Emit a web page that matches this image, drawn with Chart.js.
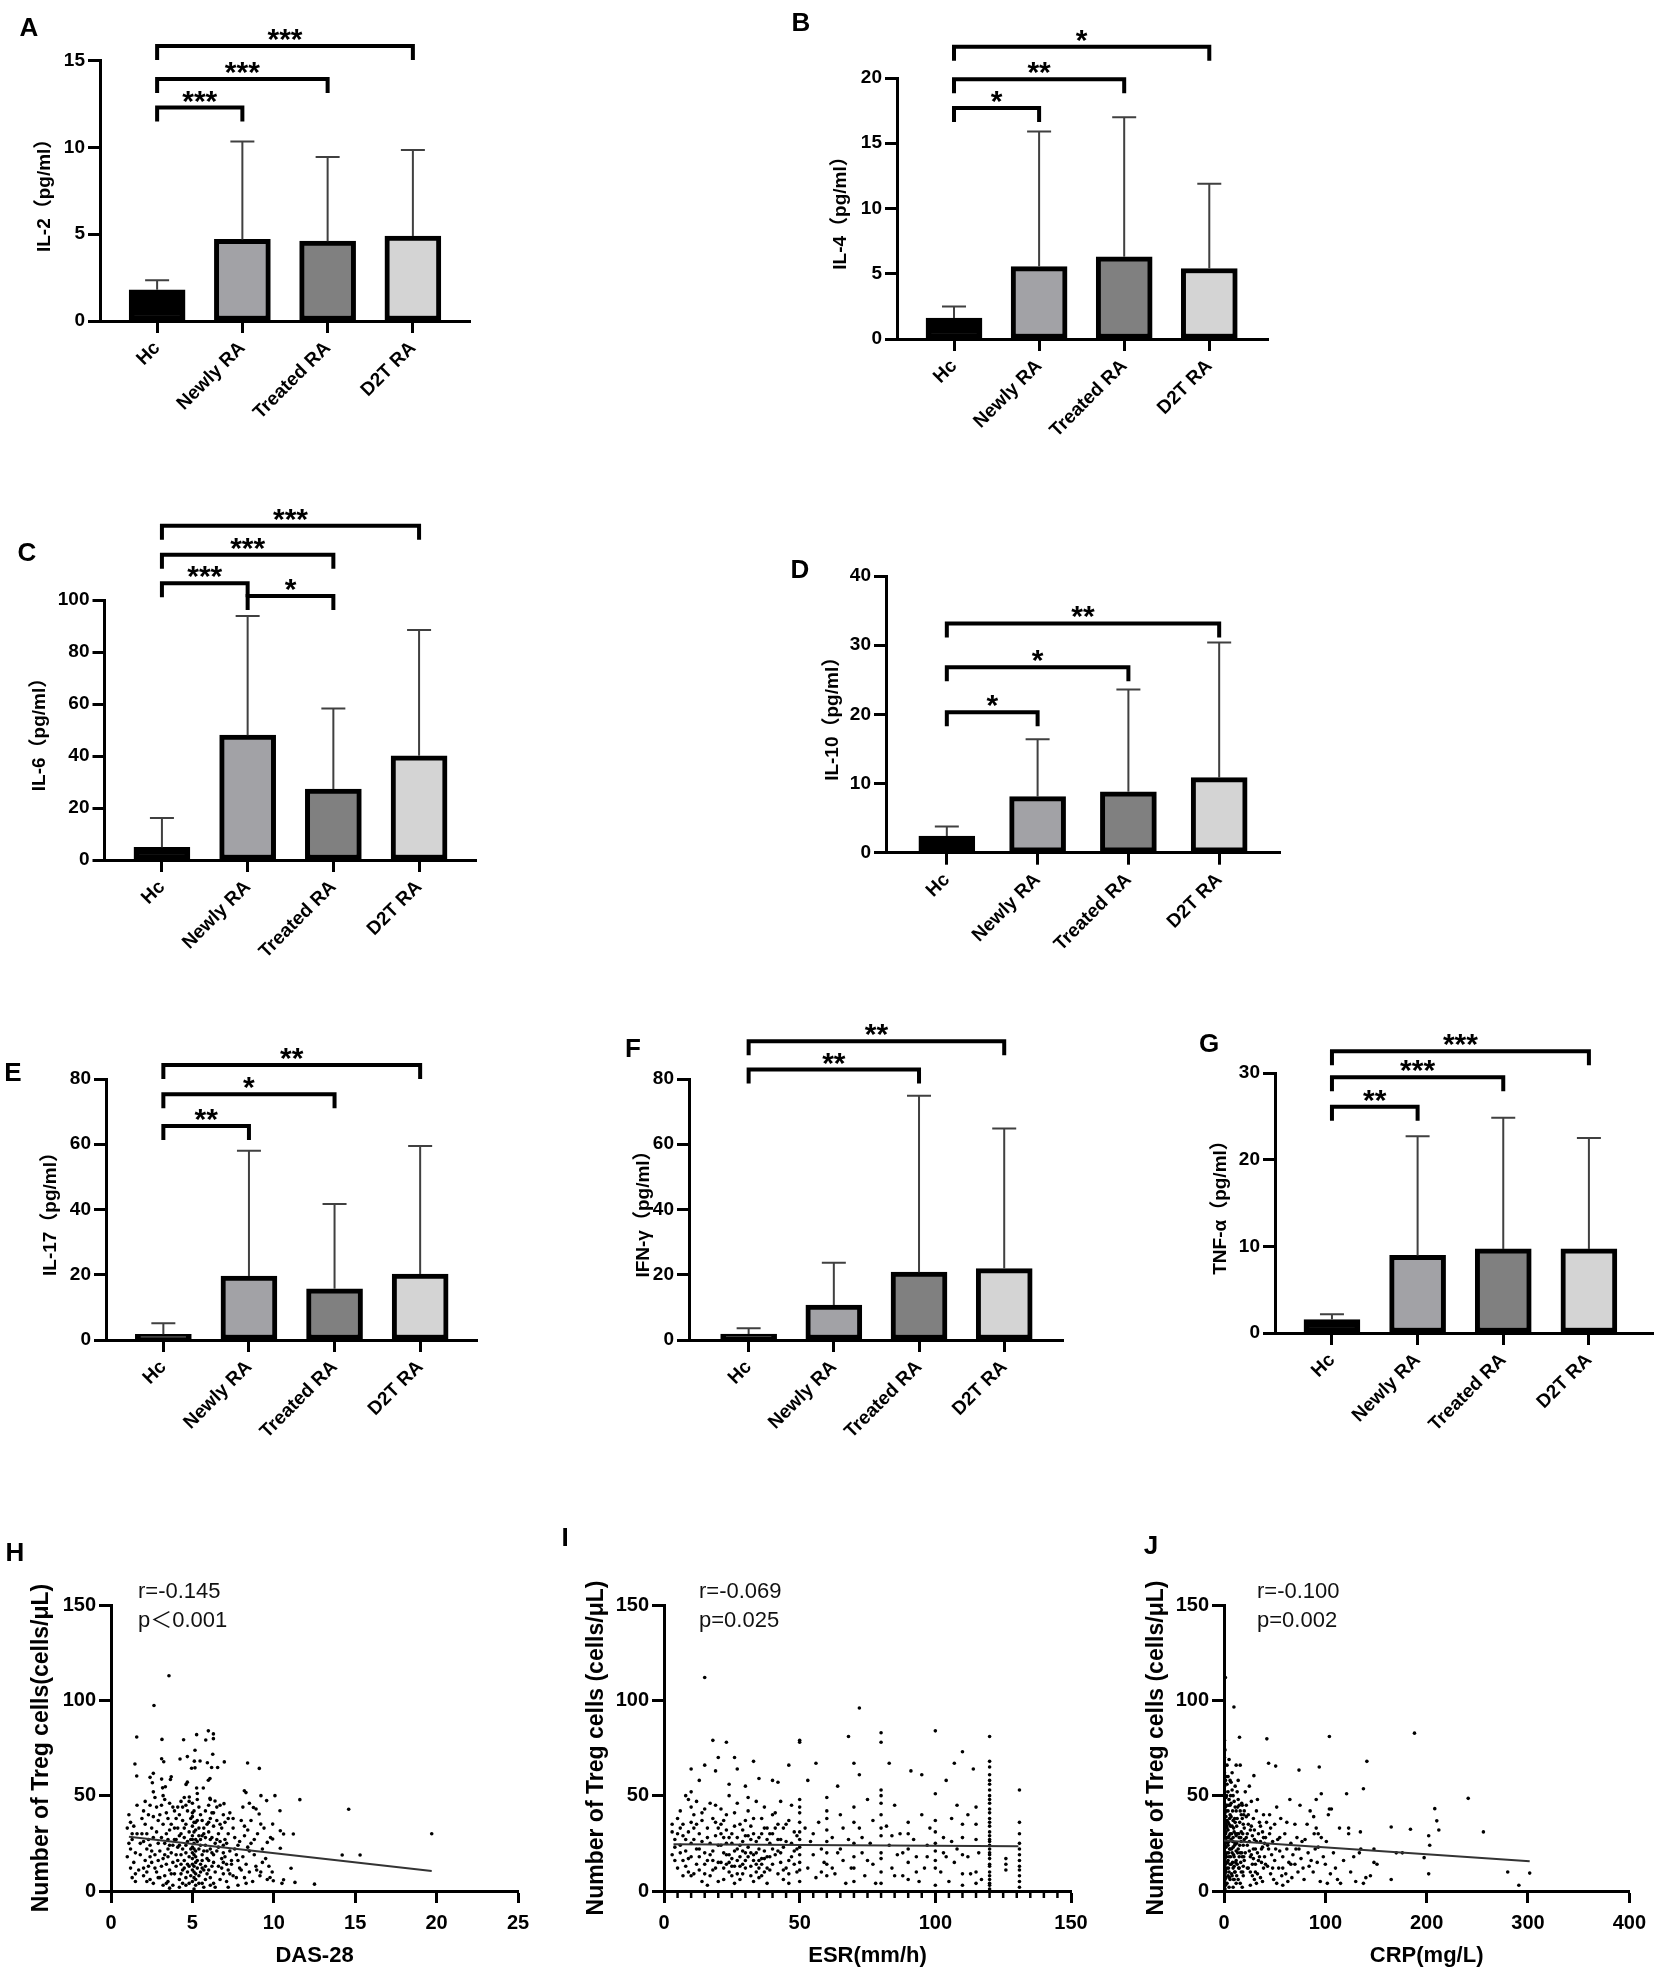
<!DOCTYPE html>
<html>
<head>
<meta charset="utf-8">
<title>Cytokines and Treg cells in RA</title>
<script src="https://cdn.jsdelivr.net/npm/chart.js@4.4.1/dist/chart.umd.min.js"></script>
<style>
  html, body { margin: 0; background: #fff; overflow: hidden; }
  #fig { position: relative; width: 1654px; height: 1973px; }
  #fig canvas { position: absolute; }
  .tag {
    position: absolute;
    font: bold 26px "Liberation Sans", Arial, sans-serif;
    line-height: 1;
    transform: translate(-50%, -50%);
  }
</style>
</head>
<body>
<div id="fig"></div>
<script>
// Bar panels: mean and whisker top (mean + SD), significance brackets [from, to, level, mark]
const CATS = ["Hc", "Newly RA", "Treated RA", "D2T RA"];
const BAR_FILLS = ["#000000", "#a2a2a6", "#808080", "#d4d4d4"];

const IL2_MEAN = [1.8, 4.7, 4.6, 4.9];
const IL2_TOP = [2.35, 10.35, 9.45, 9.85];
const IL2_SIG = [[0, 1, 12.3, "***"], [0, 2, 13.95, "***"], [0, 3, 15.85, "***"]];

const IL4_MEAN = [1.6, 5.55, 6.3, 5.4];
const IL4_TOP = [2.5, 15.9, 17.0, 11.9];
const IL4_SIG = [[0, 1, 17.7, "*"], [0, 2, 19.9, "**"], [0, 3, 22.4, "*"]];

const IL6_MEAN = [4.9, 48, 27.3, 40.1];
const IL6_TOP = [16.2, 93.8, 58.3, 88.5];
const IL6_SIG = [[0, 1, 106.4, "***"], [1, 2, 101.5, "*"], [0, 2, 117.4, "***"], [0, 3, 128.6, "***"]];

const IL10_MEAN = [2.4, 8.1, 8.8, 10.85];
const IL10_TOP = [3.8, 16.4, 23.6, 30.4];
const IL10_SIG = [[0, 1, 20.3, "*"], [0, 2, 26.8, "*"], [0, 3, 33.15, "**"]];

const IL17_MEAN = [1.75, 19.6, 15.7, 20.2];
const IL17_TOP = [5.1, 58, 41.7, 59.5];
const IL17_SIG = [[0, 1, 65.6, "**"], [0, 2, 75.3, "*"], [0, 3, 84.3, "**"]];

const IFNG_MEAN = [1.85, 10.7, 20.8, 21.9];
const IFNG_TOP = [3.6, 23.7, 74.9, 64.8];
const IFNG_SIG = [[0, 2, 82.9, "**"], [0, 3, 91.6, "**"]];

const TNFA_MEAN = [1.55, 8.95, 9.7, 9.7];
const TNFA_TOP = [2.16, 22.7, 24.85, 22.5];
const TNFA_SIG = [[0, 1, 26.1, "**"], [0, 2, 29.5, "***"], [0, 3, 32.5, "***"]];

// Scatter panels: [x, Treg count], plus the drawn fit line ends
const DAS28_TREG = [
  [3.56,112.9],[2.64,97.3],[1.58,80.8],[3.13,79.5],[4.46,79.3],[5.26,82],[5.98,84],[6.29,82.4],[6.29,79.9],[5.82,79.2],
  [5.16,73.8],[6.25,71.7],[1.47,66.6],[3.24,67.8],[3.11,69.4],[4.24,69.2],[4.69,70.5],[5.12,68.1],[5.47,68.2],[5.92,67.3],
  [6.96,67.7],[6.55,64.8],[6.18,64.8],[5.16,64.6],[4.95,64.4],[8.39,67.1],[9.11,64.3],[1.58,60.3],[2.6,61.7],[2.4,59.6],
  [2.54,56.8],[3.7,59.9],[3.65,58.5],[3.34,54.7],[3.17,54.1],[3.11,58.7],[4.69,57.1],[4.61,55.9],[6.08,59],[5.98,58.1],
  [5.67,54],[5.26,54],[5.3,51.1],[4.81,49.3],[6.08,48.6],[6.39,47.2],[6.94,45.8],[8.19,52.6],[8.29,51.6],[9.21,50],
  [10.07,50],[11.6,47.9],[14.6,42.9],[9.56,47.4],[10.38,42.1],[8.75,43.8],[8.91,43],[9.1,40.4],[9.2,35.1],[9.93,35.1],
  [10.4,31.6],[10.6,29.9],[11.2,29.9],[9.93,27.3],[9.6,25.5],[10.4,22.4],[14.2,18.9],[15.3,18.9],[11.06,11.9],[12.5,3.6],
  [11.3,4.5],[10.6,5.9],[9.97,5.4],[9.77,7.1],[9.15,8],[8.95,11],[19.7,30],
  [1.1,40],[1.2,36],[1.0,33],[1.3,30],[1.1,25],[1.2,22],[1.0,18],[1.4,15],[1.2,12],[1.5,9],[1.3,27],[1.5,20],[1.4,34],
  [1.6,45],[1.5,5],[1.7,11],[1.9,38],[2.0,42],[2.1,47],[1.9,30],[2.0,26],[2.2,22],[1.8,19],[2.1,16],[2.3,13],[2.0,8],
  [2.2,5],[2.4,6],[2.5,33],[2.6,28],[2.4,24],[2.7,19],[2.5,15],[2.8,10],[2.6,4],[2.9,37],[2.8,44],[2.3,40],[2.7,49],
  [2.9,25],[2.9,16],[3.0,7],[2.6,52],[2.4,18],[2.2,30],[2.8,31],[3.1,45],[3.2,50],[3.3,48],[3.4,41],[3.5,38],[3.2,35],
  [3.6,32],[3.1,28],[3.3,25],[3.5,22],[3.7,20],[3.2,17],[3.4,14],[3.6,11],[3.3,8],[3.5,5],[3.8,3],[3.9,27],[3.7,35],
  [3.9,42],[3.6,46],[3.8,15],[3.4,30],[3.0,21],[3.8,24],[3.6,1.5],[3.9,9],[3.5,18],[4.1,44],[4.3,47],[4.5,49],[4.2,40],
  [4.4,37],[4.6,35],[4.1,33],[4.3,30],[4.5,28],[4.7,26],[4.2,24],[4.4,22],[4.6,20],[4.8,18],[4.1,16],[4.3,14],[4.5,12],
  [4.7,10],[4.9,8],[4.2,6],[4.4,4],[4.6,3],[4.8,31],[4.9,38],[4.0,19],[4.0,27],[4.7,42],[4.9,22],[4.5,16],[4.8,13],
  [4.3,9],[4.6,45],[5.0,46],[5.1,42],[5.0,39],[5.2,36],[5.0,34],[5.1,31],[5.0,29],[5.2,27],[5.1,25],[5.0,23],[5.2,21],
  [5.1,19],[5.0,17],[5.2,15],[5.1,13],[5.0,11],[5.2,9],[5.1,7],[5.0,5],[5.2,3],[5.1,1],[5.4,44],[5.5,40],[5.6,37],
  [5.4,33],[5.7,30],[5.5,27],[5.8,24],[5.4,22],[5.6,19],[5.9,17],[5.5,14],[5.7,11],[5.4,8],[5.8,6],[5.6,4],[5.3,48],
  [5.9,35],[5.8,42],[5.3,26],[5.7,21],[5.9,9],[5.3,16],[5.6,29],[6.0,45],[6.2,41],[6.1,38],[6.3,34],[6.0,31],[6.2,28],
  [6.4,25],[6.1,22],[6.3,19],[6.0,16],[6.2,13],[6.4,10],[6.1,7],[6.3,4],[6.5,37],[6.6,30],[6.7,26],[6.5,21],[6.8,17],
  [6.6,13],[6.9,9],[6.7,6],[6.4,2],[6.8,33],[6.9,24],[6.5,44],[6.9,40],[6.1,48],[7.0,36],[7.2,30],[7.1,25],[7.3,21],
  [7.0,18],[7.4,14],[7.2,11],[7.5,8],[7.1,5],[7.6,28],[7.7,19],[7.8,24],[7.5,33],[7.9,12],[7.7,7],[7.3,41],[7.8,3],
  [7.4,16],[7.9,26],[8.0,37],[8.2,29],[8.4,23],[8.1,18],[8.3,14],[8.5,10],[8.2,7],[8.7,5],[8.6,25],[8.8,19],[8.4,32],
  [8.9,13],[8.1,44],[8.6,37],[8.3,4],[9.0,30],[9.3,22],[9.5,17],[9.2,10],[9.6,6],[9.4,33],[9.8,28],[9.7,13],
  [2.1,35],[2.3,27],[2.5,21],[2.7,12],[2.9,7],[3.1,13],[3.3,19],[3.5,27],[3.7,9],[3.9,33],[4.1,23],[4.3,19],[4.5,33],
  [4.7,14],[4.9,27],[4.2,29],[4.4,11],[4.6,7],[4.8,4],[5.0,41],[5.1,36],[5.2,32],[5.0,27],[5.1,22],[5.0,20],[5.2,18],
  [5.1,10],[5.0,14],[5.2,6],[5.3,37],[5.4,29],[5.5,24],[5.6,16],[5.7,33],[5.8,28],[5.9,21],[5.5,10],[5.6,12],[5.4,4],
  [5.8,13],[6.0,36],[6.1,27],[6.2,20],[6.3,15],[6.0,11],[6.1,3],[6.5,27],[6.6,23],[6.7,35],[6.8,12],[6.9,20],[7.0,27],
  [7.1,14],[7.2,38],[7.3,9],[7.6,22],[7.8,16],[8.0,11],[8.2,34],[8.5,21],[3.0,40],[2.0,12],[1.8,25],[1.6,30],[1.3,7],
  [3.2,3],[4.0,13],[4.0,38],[3.8,44],[2.4,45],[4.4,44],[4.8,47],[6.3,41],[6.7,45],[7.5,38],[8.5,46],[3.4,4],[4.2,2],
  [5.7,2],[7.2,2],[6.9,15],[8.8,27],[9.3,15],[9.9,10],[10.5,4],[2.2,10],[2.6,39],[3.6,24],[4.6,24],[5.3,12]
];
const DAS28_FIT = [[1.1, 28.5], [19.7, 10.5]];

const ESR_TREG = [
  [15,112],[72,96],[100,84],[120,81],[68,81],[80,83],[80,78],[50,79],[50,78],[18,79],[23,78],[20,70],[26,70],[33,68],
  [15,66],[10,64],[19,63],[27,64],[46,66],[56,67],[70,67],[83,67],[107,67],[110,73],[114,64],[91,63],[95,61],[72,61],
  [120,68],[120,65],[120,61],[120,58],[35,59],[40,58],[42,57],[53,58],[13,58],[131,53],[104,58],[24,56],[30,55],[64,55],
  [120,1],[120,3],[120,4],[120,6],[120,8],[120,10],[120,13],[120,14],[120,17],[120,19],[120,20],[120,22],[120,24],
  [120,26],[120,27],[120,29],[120,31],[120,34],[120,36],[120,38],[120,41],[120,43],[120,46],[120,48],[120,50],[120,53],
  [120,56],[131,2],[131,5],[131,8],[131,11],[131,13],[131,16],[131,19],[131,22],[131,25],[131,30],[131,36],[126,11],
  [126,14],[126,17],[50,5],[50,11],[50,15],[50,19],[50,23],[50,27],[50,31],[50,36],[50,41],[50,44],[50,48],[60,8],
  [60,14],[60,20],[60,26],[60,32],[60,38],[60,42],[60,49],[70,5],[70,12],[70,18],[70,25],[70,36],[70,44],[80,4],
  [80,10],[80,17],[80,20],[80,29],[80,33],[80,40],[80,46],[80,50],[80,53],[90,6],[90,15],[90,22],[90,30],[90,36],
  [100,3],[100,12],[100,16],[100,21],[100,25],[100,31],[100,37],[100,51],[110,3],[110,9],[110,19],[110,28],[110,35],
  [115,4],[115,10],[115,27],[115,35],[115,44],
  [3,35],[3,31],[4,27],[4,16],[5,12],[3,19],[5,38],[6,33],[7,29],[6,24],[8,21],[7,16],[9,10],[8,50],[9,48],[10,44],
  [6,42],[10,36],[9,31],[10,25],[8,13],[4,23],[7,8],[10,18],[10,52],[11,40],[12,35],[13,30],[14,26],[12,22],[13,18],
  [15,14],[11,9],[14,5],[16,3],[17,46],[15,43],[18,38],[16,33],[19,29],[17,25],[18,21],[16,16],[19,12],[17,8],[20,5],
  [12,47],[14,37],[19,45],[20,33],[13,11],[15,20],[18,16],[11,27],[20,24],[21,43],[22,37],[23,32],[24,28],[21,24],
  [22,20],[25,17],[23,14],[24,10],[22,6],[26,4],[27,46],[26,41],[28,35],[25,30],[29,26],[27,22],[28,18],[26,13],[29,9],
  [28,6],[30,37],[30,29],[24,50],[21,15],[25,8],[27,16],[29,14],[23,25],[30,20],[31,42],[32,34],[33,30],[34,26],[31,23],
  [33,19],[35,16],[32,13],[34,10],[36,8],[33,5],[37,44],[36,38],[38,33],[35,28],[39,25],[37,21],[38,18],[36,14],[39,11],
  [38,4],[31,49],[34,47],[40,30],[40,22],[32,8],[35,12],[37,17],[41,41],[42,35],[43,27],[44,23],[41,19],[43,15],[45,12],
  [42,9],[44,6],[46,4],[47,45],[46,37],[48,31],[45,26],[49,22],[47,18],[48,14],[46,9],[49,29],[44,33],[42,21],[43,47],
  [52,33],[54,26],[55,19],[53,12],[56,7],[58,22],[57,36],[59,15],[62,28],[64,20],[63,9],[65,40],[66,16],[67,4],[68,27],
  [69,12],[72,33],[73,20],[74,8],[75,48],[76,25],[77,14],[78,4],[82,34],[83,24],[84,12],[85,45],[86,19],[87,30],[88,8],
  [92,27],[93,18],[94,5],[95,40],[96,12],[97,24],[98,33],[102,10],[103,28],[104,18],[105,5],[106,38],[107,15],[108,22],
  [112,18],[113,9],[116,20],[117,6],[112,40],[108,45],
  [5,30],[6,20],[7,35],[8,27],[9,17],[10,8],[11,33],[12,14],[13,22],[14,41],[15,9],[16,28],[17,19],[18,11],[19,36],
  [20,15],[21,30],[22,12],[23,40],[24,19],[25,25],[26,34],[27,9],[28,24],[29,32],[30,12],[31,18],[32,27],[33,38],[34,14],
  [35,22],[36,30],[37,10],[38,27],[39,18],[40,14],[41,33],[42,27],[43,20],[44,11],[45,35],[46,16],[47,25],[48,21],[49,10],
  [21,35],[23,19],[25,13],[27,28],[29,21],[31,29],[33,16],[35,7],[37,33],[39,30],[26,21],[32,20],[34,20],[36,17],[38,12],
  [24,15],[22,28],[28,13],[30,16],[40,40],[55,30],[62,12],[66,33],[73,28],[77,37],[84,29],[88,20],[93,10],[97,18],
  [103,20],[106,26],[58,10],[65,22],[75,16],[85,8]
];
const ESR_FIT = [[3.5, 24.5], [130.6, 23.5]];

const CRP_TREG = [
  [1.4,112],[9.8,96.5],[15.3,80.6],[42.3,79.8],[104,81],[188,82.8],[141,68],[44,67],[51,65.5],[74,63.4],[94,65],
  [29.5,60.5],[121,51],[137.6,53.6],[241,48.6],[208,43.2],[210,36.8],[212,32],[202,29],[203,24],[256,31],[165,33.6],
  [184,32.4],[280,10],[291,3],[301.7,9.4],[202,9],[165,6],[197.5,17.5],[176,20],[170,20],[148,22],[151,14],[148,15],
  [144.5,8],[137.6,4],[133.6,20],[134.6,31],[123,33],[123,30],[114,33],[106,43],[104,43],[91,33],[93,30],[88.5,39],
  [91,48],[96,51],
  [0.5,70],[1,66],[0.5,62],[1.5,58],[0.5,55],[1,52],[2,49],[0.5,46],[1.5,44],[1,41],[2,39],[0.5,37],[1.5,35],[1,33],
  [2,31],[0.5,29],[1.5,27],[1,25],[2,23],[0.5,21],[1.5,19],[1,17],[2,15],[0.5,13],[1.5,11],[1,9],[2,7],[0.5,5],
  [1.5,3],[1,1],[0.5,79],[2,60],[1,74],[3,56],[4,52],[5,48],[3,45],[4,42],[6,40],[3,37],[5,35],[4,32],[6,30],[3,28],
  [5,26],[4,24],[6,22],[3,20],[5,18],[4,16],[6,14],[3,12],[5,10],[4,8],[6,6],[3,4],[5,2],[4,60],[6,58],[3,66],[5,69],
  [6,45],[4,36],[5,29],[3,33],[7,57],[8,53],[9,50],[10,47],[11,44],[12,42],[7,39],[9,37],[8,34],[10,31],[12,29],[7,27],
  [11,25],[9,23],[8,20],[10,18],[12,16],[7,14],[9,12],[11,10],[8,8],[10,6],[12,4],[9,2],[11,36],[7,46],[12,21],[10,13],
  [8,62],[11,55],[12,66],[9,28],[13,52],[14,48],[15,45],[16,42],[17,40],[18,38],[19,35],[20,33],[13,30],[15,28],[17,26],
  [19,24],[14,22],[16,20],[18,18],[20,16],[13,14],[15,12],[17,10],[19,8],[14,6],[16,4],[18,2],[20,27],[13,38],[17,31],
  [15,18],[19,13],[14,58],[16,66],[18,45],[20,42],[22,39],[24,35],[26,32],[28,29],[30,27],[23,24],[25,21],[27,19],
  [29,17],[31,14],[24,12],[26,10],[28,8],[30,6],[32,4],[34,30],[36,26],[38,23],[33,20],[35,18],[37,15],[39,12],[33,9],
  [36,7],[38,5],[40,25],[22,45],[27,47],[32,42],[35,36],[38,31],[29,38],[21,52],[25,55],[33,48],[39,40],[26,3],[40,18],
  [31,22],[23,30],[42,36],[45,30],[48,26],[44,22],[47,19],[50,16],[43,13],[46,9],[49,6],[52,4],[53,27],[55,21],[58,18],
  [54,12],[57,8],[60,30],[62,22],[64,15],[61,9],[63,5],[66,25],[68,19],[70,14],[67,7],[72,28],[74,22],[76,17],[73,10],
  [78,12],[80,27],[45,40],[50,35],[56,38],[65,48],[70,35],[75,45],[79,6],[58,3],[41,28],[52,44],[83,20],[86,16],[88,10],
  [85,42],[90,22],[92,15],[95,5],[98,18],[100,14],[102,4],[105,9],[108,20],[110,12],[112,6],[115,4],[118,16],[125,10],
  [130,5],[128,18],[135,22],[140,7],[96,28],[103,40],[82,35],[89,30],
  [0.5,40],[1,36],[1.5,30],[2,26],[0.5,24],[1,20],[1.5,14],[2,10],[0.5,8],[1,6],[2.5,50],[2.5,42],[2.5,34],[2.5,18],
  [3.5,25],[3.5,15],[4.5,45],[4.5,28],[4.5,20],[4.5,12],[5.5,38],[5.5,22],[5.5,7],[6.5,50],[6.5,34],[6.5,18],[7.5,30],
  [7.5,22],[7.5,9],[8.5,42],[8.5,26],[8.5,15],[9.5,33],[9.5,19],[9.5,6],[10.5,38],[10.5,24],[10.5,10],[11.5,30],
  [11.5,15],[12.5,34],[12.5,25],[12.5,8],[13.5,20],[13.5,44],[14.5,30],[14.5,12],[15.5,36],[15.5,24],[16.5,15],
  [16.5,28],[17.5,20],[17.5,46],[18.5,30],[18.5,10],[19.5,18],[19.5,40],[21,20],[22,28],[23,12],[24,40],[25,26],
  [26,18],[27,34],[28,14],[29,22],[30,32],[31,10],[32,26],[34,16],[36,34],[37,22],[39,28],[41,14],[43,24],[46,33],
  [48,12],[51,22],[55,28],[58,12],[62,36],[66,14],[71,22],[77,26],[84,13],[93,23],[101,26]
];
const CRP_FIT = [[0, 26.5], [301.7, 15.6]];

const FONT = '"Liberation Sans", Arial, "Noto Sans CJK SC", sans-serif';
const INK = "#000000";
const LEG = 14; // bracket leg, px

Chart.defaults.font.family = FONT;
Chart.defaults.color = INK;

const tickGrid = { drawOnChartArea: false, tickLength: 12, tickWidth: 3, tickColor: INK };
const axisBorder = { width: 3, color: INK };

const fig = document.getElementById("fig");

function addCanvas([left, top, w, h]) {
  const cv = document.createElement("canvas");
  cv.width = w;
  cv.height = h;
  cv.style.left = left + "px";
  cv.style.top = top + "px";
  fig.appendChild(cv);
  return cv;
}

// whiskers + significance brackets, all placed through the chart scales
function barExtras(p) {
  return {
    id: "barExtras",
    afterDatasetsDraw(chart) {
      const { ctx, scales: { x, y } } = chart;
      ctx.save();
      ctx.strokeStyle = "#404040";
      ctx.lineWidth = 2;
      p.mean.forEach((m, i) => {
        const px = x.getPixelForValue(i);
        const y0 = y.getPixelForValue(m);
        const y1 = y.getPixelForValue(p.top[i]);
        ctx.beginPath();
        ctx.moveTo(px, y0);
        ctx.lineTo(px, y1);
        ctx.moveTo(px - 12, y1);
        ctx.lineTo(px + 12, y1);
        ctx.stroke();
      });
      ctx.strokeStyle = INK;
      ctx.lineWidth = 4;
      ctx.lineJoin = "miter";
      ctx.fillStyle = INK;
      ctx.font = "bold 30px " + FONT;
      ctx.textAlign = "center";
      ctx.textBaseline = "alphabetic";
      p.sig.forEach(([a, b, level, mark]) => {
        const xa = x.getPixelForValue(a);
        const xb = x.getPixelForValue(b);
        const yl = y.getPixelForValue(level);
        ctx.beginPath();
        ctx.moveTo(xa, yl + LEG);
        ctx.lineTo(xa, yl);
        ctx.lineTo(xb, yl);
        ctx.lineTo(xb, yl + LEG);
        ctx.stroke();
        ctx.fillText(mark, (xa + xb) / 2, yl + 3);
      });
      ctx.restore();
    },
  };
}

function barPanel(p) {
  const [left, top, w, h] = p.box;
  new Chart(addCanvas(p.box), {
    type: "bar",
    data: {
      datasets: [{
        data: p.mean.map((v, i) => ({ x: i, y: v })),
        backgroundColor: BAR_FILLS,
        borderColor: INK,
        borderWidth: 5,
        borderSkipped: false,
        barThickness: 56,
      }],
    },
    options: {
      responsive: false,
      animation: false,
      events: [],
      layout: { padding: { top: p.yTop - top, right: left + w - p.xEnd, bottom: 0, left: 0 } },
      plugins: { legend: { display: false }, tooltip: { enabled: false } },
      scales: {
        x: {
          type: "linear",
          min: p.xMin,
          max: p.xMax,
          offset: false,
          grid: { ...tickGrid, offset: false },
          border: axisBorder,
          afterBuildTicks: (s) => { s.ticks = CATS.map((_, i) => ({ value: i })); },
          afterFit: (s) => { s.height = top + h - p.yBottom; },
          ticks: {
            autoSkip: false,
            minRotation: 45,
            maxRotation: 45,
            padding: 4,
            font: { size: 19, weight: "bold" },
            callback: (v) => CATS[v],
          },
        },
        y: {
          min: 0,
          max: p.yMax,
          grid: tickGrid,
          border: axisBorder,
          ticks: { stepSize: p.yStep, padding: 3, font: { size: 19, weight: "bold" } },
          afterFit: (s) => { s.width = p.axisX - left; },
          title: {
            display: true,
            text: p.title,
            font: { size: 19, weight: "bold" },
            padding: { top: p.titleX - left - 11.4, bottom: 0 },
          },
        },
      },
    },
    plugins: [barExtras(p)],
  });
}

function scatterExtras(p) {
  return {
    id: "scatterExtras",
    afterDraw(chart) {
      const { ctx, chartArea, scales: { x } } = chart;
      ctx.save();
      ctx.fillStyle = "#111";
      ctx.font = "22px " + FONT;
      ctx.textAlign = "left";
      ctx.textBaseline = "middle";
      ctx.fillText(p.stats[0], chartArea.left + p.textDx, chartArea.top - 13);
      ctx.fillText(p.stats[1], chartArea.left + p.textDx, chartArea.top + 16);
      if (p.minorStep) {
        ctx.strokeStyle = INK;
        ctx.lineWidth = 2.5;
        for (let v = p.minorStep; v < p.xMax; v += p.minorStep) {
          if (v % p.xStep === 0) continue;
          const px = x.getPixelForValue(v);
          ctx.beginPath();
          ctx.moveTo(px, chartArea.bottom);
          ctx.lineTo(px, chartArea.bottom + 7);
          ctx.stroke();
        }
      }
      ctx.restore();
    },
  };
}

function scatterPanel(p) {
  const [left, top, w, h] = p.box;
  new Chart(addCanvas(p.box), {
    type: "scatter",
    data: {
      datasets: [
        {
          type: "line",
          data: p.fit.map(([x, y]) => ({ x, y })),
          borderColor: "#333",
          borderWidth: 2,
          pointRadius: 0,
          order: 0,
        },
        {
          data: p.points.map(([x, y]) => ({ x, y })),
          pointRadius: 1.8,
          pointBorderWidth: 0,
          backgroundColor: INK,
          order: 1,
        },
      ],
    },
    options: {
      responsive: false,
      animation: false,
      events: [],
      layout: { padding: { top: p.yTop - top, right: left + w - p.xEnd, bottom: 0, left: 0 } },
      plugins: { legend: { display: false }, tooltip: { enabled: false } },
      scales: {
        x: {
          min: 0,
          max: p.xMax,
          grid: tickGrid,
          border: axisBorder,
          ticks: { stepSize: p.xStep, maxRotation: 0, padding: 8, font: { size: 20, weight: "bold" } },
          afterFit: (s) => { s.height = top + h - p.yBottom; },
          title: {
            display: true,
            text: p.xTitle,
            font: { size: 22, weight: "bold" },
            padding: { top: 0, bottom: 4 },
          },
        },
        y: {
          min: 0,
          max: 150,
          grid: tickGrid,
          border: axisBorder,
          ticks: { stepSize: 50, padding: 3, font: { size: 20, weight: "bold" } },
          afterFit: (s) => { s.width = p.axisX - left; },
          title: {
            display: true,
            text: p.yTitle,
            font: { size: 23, weight: "bold" },
            padding: { top: p.titleX - left - 13.8, bottom: 0 },
          },
        },
      },
    },
    plugins: [scatterExtras(p)],
  });
}

barPanel({ box: [0, 0, 480, 440], axisX: 100, yTop: 60.7, yBottom: 321, xEnd: 470, xMin: -0.67, xMax: 3.67,
  yMax: 15, yStep: 5, title: "IL-2（pg/ml）", titleX: 45, mean: IL2_MEAN, top: IL2_TOP, sig: IL2_SIG });
barPanel({ box: [780, 0, 500, 460], axisX: 897, yTop: 78, yBottom: 339, xEnd: 1268, xMin: -0.67, xMax: 3.69,
  yMax: 20, yStep: 5, title: "IL-4（pg/ml）", titleX: 841, mean: IL4_MEAN, top: IL4_TOP, sig: IL4_SIG });
barPanel({ box: [0, 460, 490, 520], axisX: 104.5, yTop: 600, yBottom: 860, xEnd: 476.5, xMin: -0.67, xMax: 3.67,
  yMax: 100, yStep: 20, title: "IL-6（pg/ml）", titleX: 40, mean: IL6_MEAN, top: IL6_TOP, sig: IL6_SIG });
barPanel({ box: [780, 540, 510, 440], axisX: 886, yTop: 576, yBottom: 852.7, xEnd: 1280, xMin: -0.67, xMax: 3.67,
  yMax: 40, yStep: 10, title: "IL-10（pg/ml）", titleX: 833, mean: IL10_MEAN, top: IL10_TOP, sig: IL10_SIG });
barPanel({ box: [0, 1000, 490, 450], axisX: 106, yTop: 1079, yBottom: 1340, xEnd: 477.5, xMin: -0.67, xMax: 3.67,
  yMax: 80, yStep: 20, title: "IL-17（pg/ml）", titleX: 51, mean: IL17_MEAN, top: IL17_TOP, sig: IL17_SIG });
barPanel({ box: [560, 1000, 520, 450], axisX: 689, yTop: 1079, yBottom: 1340, xEnd: 1063, xMin: -0.7, xMax: 3.69,
  yMax: 80, yStep: 20, title: "IFN-γ（pg/ml）", titleX: 644, mean: IFNG_MEAN, top: IFNG_TOP, sig: IFNG_SIG });
barPanel({ box: [1120, 1000, 560, 450], axisX: 1275, yTop: 1073, yBottom: 1333, xEnd: 1654, xMin: -0.665, xMax: 3.76,
  yMax: 30, yStep: 10, title: "TNF-α（pg/ml）", titleX: 1221, mean: TNFA_MEAN, top: TNFA_TOP, sig: TNFA_SIG });

scatterPanel({ box: [0, 1540, 540, 433], axisX: 111, yTop: 1605, yBottom: 1891, xEnd: 518, xMax: 25, xStep: 5,
  xTitle: "DAS-28", yTitle: "Number of Treg cells(cells/μL)", titleX: 42, textDx: 27,
  stats: ["r=-0.145", "p＜0.001"], points: DAS28_TREG, fit: DAS28_FIT });
scatterPanel({ box: [540, 1540, 560, 433], axisX: 664, yTop: 1605, yBottom: 1891, xEnd: 1071, xMax: 150, xStep: 50,
  minorStep: 5, xTitle: "ESR(mm/h)", yTitle: "Number of Treg cells (cells/μL)", titleX: 597, textDx: 35,
  stats: ["r=-0.069", "p=0.025"], points: ESR_TREG, fit: ESR_FIT });
scatterPanel({ box: [1100, 1540, 554, 433], axisX: 1224, yTop: 1605, yBottom: 1891, xEnd: 1631, xMax: 400, xStep: 100,
  xTitle: "CRP(mg/L)", yTitle: "Number of Treg cells (cells/μL)", titleX: 1157, textDx: 33,
  stats: ["r=-0.100", "p=0.002"], points: CRP_TREG, fit: CRP_FIT });

// panel letters
[["A", 29, 27], ["B", 801, 22], ["C", 27, 552], ["D", 800, 569], ["E", 13, 1072], ["F", 633, 1048],
 ["G", 1209, 1043], ["H", 15, 1552], ["I", 565, 1537], ["J", 1151, 1545]].forEach(([t, x, y]) => {
  const d = document.createElement("div");
  d.className = "tag";
  d.textContent = t;
  d.style.left = x + "px";
  d.style.top = y + "px";
  fig.appendChild(d);
});
</script>
</body>
</html>
